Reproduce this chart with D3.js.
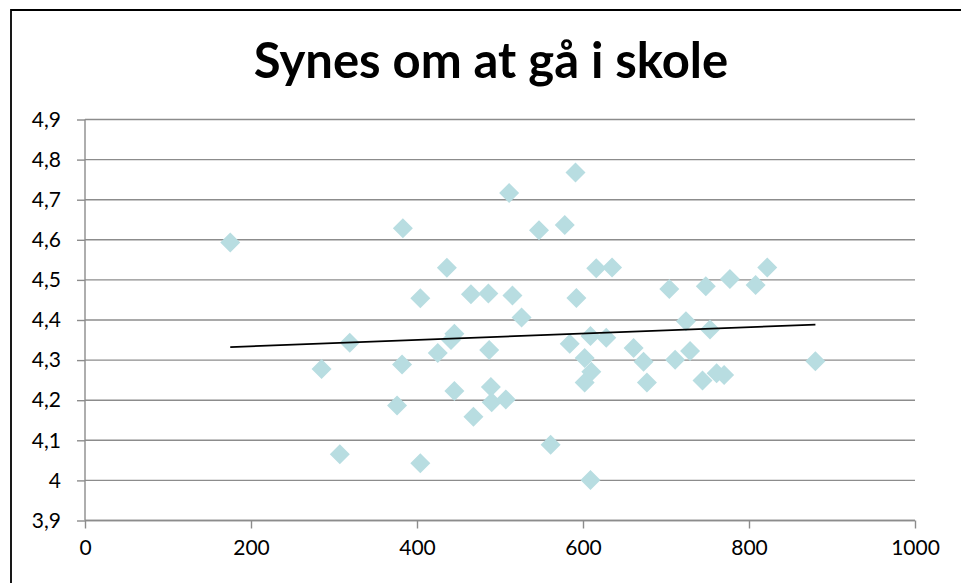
<!DOCTYPE html>
<html>
<head>
<meta charset="utf-8">
<script src="https://cdn.jsdelivr.net/npm/d3@7"></script>
<style>
  body { margin: 0; background: #fff; }
  text { font-family: Lato, "Open Sans", sans-serif; fill: #000; }
</style>
</head>
<body>
<svg width="961" height="583"></svg>
<script>
const svg = d3.select('svg');
const width = +svg.attr('width');
const height = +svg.attr('height');

const title = 'Synes om at gå i skole';

// x values (skolestørrelse) and y values (synes om at gå i skole)
const xValues = [
  175, 285, 307, 319, 376, 382, 383, 404, 404, 425,
  436, 441, 445, 445, 465, 468, 486, 487, 489, 490,
  507, 511, 515, 526, 547, 561, 578, 584, 591, 592,
  602, 602, 609, 610, 609, 616, 628, 635, 661, 673,
  677, 704, 711, 724, 729, 744, 748, 753, 761, 770,
  777, 808, 822, 880
];
const yValues = [
  4.593, 4.278, 4.065, 4.343, 4.187, 4.289, 4.629, 4.454, 4.043, 4.318,
  4.530, 4.350, 4.366, 4.223, 4.464, 4.159, 4.466, 4.325, 4.233, 4.195,
  4.202, 4.717, 4.461, 4.406, 4.624, 4.089, 4.637, 4.341, 4.768, 4.455,
  4.305, 4.244, 4.001, 4.271, 4.360, 4.529, 4.356, 4.531, 4.330, 4.296,
  4.244, 4.477, 4.301, 4.397, 4.323, 4.249, 4.484, 4.376, 4.267, 4.263,
  4.502, 4.487, 4.531, 4.297
];

const xTicks = [0, 200, 400, 600, 800, 1000];
const yTicks = [3.9, 4.0, 4.1, 4.2, 4.3, 4.4, 4.5, 4.6, 4.7, 4.8, 4.9];

const data = xValues.map((x, i) => ({ x: x, y: yValues[i] }));

const margin = { top: 119.5, left: 85, right: 46, bottom: 62.5 };
const innerWidth = width - margin.left - margin.right;
const innerHeight = height - margin.top - margin.bottom;

// outer frame (only top and left edges are inside the picture)
svg.append('path')
  .attr('d', `M11,${height}V10H${width}`)
  .attr('fill', 'none')
  .attr('stroke', '#000')
  .attr('stroke-width', 1.8);

// title
svg.append('text')
  .attr('x', 491)
  .attr('y', 78)
  .attr('text-anchor', 'middle')
  .attr('font-size', 49)
  .attr('font-weight', 'bold')
  .text(title);

const g = svg.append('g')
  .attr('transform', `translate(${margin.left},${margin.top})`);

const x = d3.scaleLinear().domain([0, 1000]).range([0, innerWidth]);
const y = d3.scaleLinear().domain([3.9, 4.9]).range([innerHeight, 0]);

const fmt = d => d3.format('.1~f')(d).replace('.', ',');

// gridlines
g.selectAll('.grid').data(yTicks).enter()
  .append('line')
    .attr('class', 'grid')
    .attr('x1', 0).attr('x2', innerWidth)
    .attr('y1', d => y(d)).attr('y2', d => y(d))
    .attr('stroke', '#8c8c8c')
    .attr('stroke-width', 1.4);

// y axis
const axisY = d3.axisLeft(y).tickValues(yTicks).tickSize(8).tickPadding(16).tickFormat(fmt);
const yG = g.append('g').call(axisY);

// x axis
const axisX = d3.axisBottom(x).tickValues(xTicks).tickSize(8).tickPadding(12).tickFormat(d3.format('d'));
const xG = g.append('g').attr('transform', `translate(0,${innerHeight})`).call(axisX);

[yG, xG].forEach(a => {
  a.select('.domain').attr('stroke', '#8c8c8c').attr('stroke-width', 1.4);
  a.selectAll('.tick line').attr('stroke', '#8c8c8c').attr('stroke-width', 1.4);
  a.selectAll('.tick text')
    .attr('font-family', 'Lato, sans-serif')
    .attr('font-size', 21)
    .attr('fill', '#000');
});
xG.select('.domain').attr('d', `M0,0H${innerWidth}`);
yG.select('.domain').attr('d', `M0,${innerHeight}V0`);

// markers
const diamond = d3.symbol().type(d3.symbolSquare).size(200);
g.selectAll('.pt').data(data).enter()
  .append('path')
    .attr('class', 'pt')
    .attr('d', diamond)
    .attr('transform', d => `translate(${x(d.x)},${y(d.y)}) rotate(45)`)
    .attr('fill', '#b8dde1');

// linear trendline
const mx = d3.mean(data, d => d.x);
const my = d3.mean(data, d => d.y);
const slope = d3.sum(data, d => (d.x - mx) * (d.y - my)) / d3.sum(data, d => (d.x - mx) ** 2);
const icpt = my - slope * mx;
const [x0, x1] = d3.extent(xValues);
g.append('line')
  .attr('x1', x(x0)).attr('y1', y(icpt + slope * x0))
  .attr('x2', x(x1)).attr('y2', y(icpt + slope * x1))
  .attr('stroke', '#000')
  .attr('stroke-width', 1.8);
</script>
</body>
</html>
